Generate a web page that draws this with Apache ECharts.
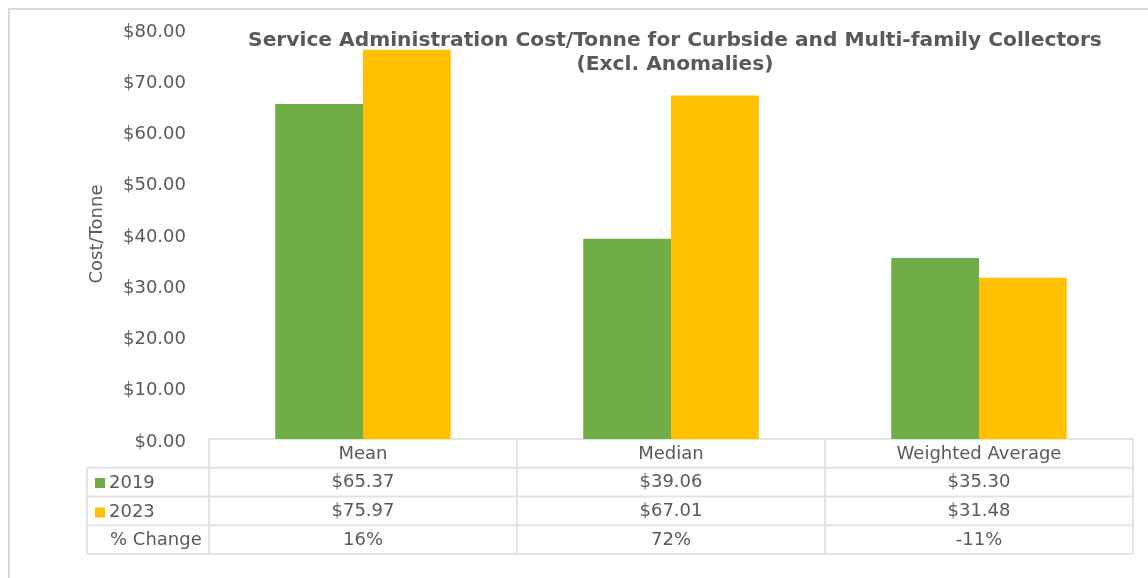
<!DOCTYPE html>
<html>
<head>
<meta charset="utf-8">
<style>
  html, body { margin: 0; padding: 0; background: #ffffff; }
  #chart { width: 1148px; height: 578px; }
</style>
<script src="https://cdn.jsdelivr.net/npm/echarts@6/dist/echarts.min.js"></script>
</head>
<body>
<div id="chart"></div>
<script>
// Service administration cost per tonne, 2019 vs 2023
const categories = ['Mean', 'Median', 'Weighted Average'];
const years = ['2019', '2023'];
const values2019 = [65.37, 39.06, 35.30];
const values2023 = [75.97, 67.01, 31.48];
const pctChange = [16, 72, -11];
const yTicks = [0, 10, 20, 30, 40, 50, 60, 70, 80];

const TEXT = '#595959';
const LINE = '#e3e3e3';
const FONT = 'DejaVu Sans';
const GRID = { left: 209, right: 15, top: 29, bottom: 139 };
const ROW_H = 28.75;

const money = v => '$' + v.toFixed(2);

const chart = echarts.init(document.getElementById('chart'), null, { renderer: 'canvas' });

// Each table row is a category axis sharing the grid, pushed down by an offset
function tableAxis(labels, offset) {
  return {
    type: 'category',
    data: labels,
    position: 'bottom',
    offset: offset,
    axisLine: { show: false },
    axisTick: { show: false },
    axisLabel: { color: TEXT, fontFamily: FONT, fontSize: 18, margin: 6, interval: 0 }
  };
}

const option = {
  animation: false,
  textStyle: { fontFamily: FONT },
  title: {
    text: 'Service Administration Cost/Tonne for Curbside and Multi-family Collectors\n(Excl. Anomalies)',
    left: 670,
    textAlign: 'center',
    top: 24,
    textStyle: {
      fontFamily: FONT,
      fontWeight: 'bold',
      fontSize: 20.2,
      lineHeight: 24,
      color: TEXT
    }
  },
  legend: {
    data: years,
    orient: 'vertical',
    left: 90,
    top: 469,
    itemWidth: 10,
    itemHeight: 10,
    itemGap: 11.5,
    icon: 'rect',
    selectedMode: false,
    textStyle: { color: TEXT, fontFamily: FONT, fontSize: 18, padding: [0, 0, 0, -1] }
  },
  grid: GRID,
  xAxis: [
    {
      type: 'category',
      data: categories,
      position: 'bottom',
      axisLine: { show: true, lineStyle: { color: LINE, width: 2 } },
      axisTick: { show: true, length: ROW_H * 4, lineStyle: { color: LINE, width: 2 } },
      axisLabel: { color: TEXT, fontFamily: FONT, fontSize: 18, margin: 6, interval: 0 }
    },
    tableAxis(values2019.map(money), ROW_H),
    tableAxis(values2023.map(money), ROW_H * 2),
    tableAxis(pctChange.map(p => p + '%'), ROW_H * 3)
  ],
  yAxis: {
    type: 'value',
    min: 0,
    max: 80,
    interval: 10,
    name: 'Cost/Tonne',
    nameLocation: 'middle',
    nameGap: 103,
    nameTextStyle: { color: TEXT, fontFamily: FONT, fontSize: 18 },
    axisLine: { show: false },
    axisTick: { show: false },
    splitLine: { show: false },
    axisLabel: {
      color: TEXT, fontFamily: FONT, fontSize: 18, margin: 23,
      formatter: v => yTicks.includes(v) ? '{v|' + money(v) + '}' : '',
      rich: { v: { fontFamily: FONT, fontSize: 18, color: TEXT, padding: [6, 0, 0, 0] } }
    }
  },
  series: [
    {
      name: years[0],
      type: 'bar',
      data: values2019,
      barGap: '0%',
      barCategoryGap: '43%',
      itemStyle: { color: '#70ad47' }
    },
    {
      name: years[1],
      type: 'bar',
      data: values2023,
      barGap: '0%',
      barCategoryGap: '43%',
      itemStyle: { color: '#ffc000' }
    }
  ]
};

chart.setOption(option);

// Table rules and row caption, placed from the grid's own geometry
const W = 1148, H = 578;
const gx1 = W - GRID.right;
const gy0 = H - GRID.bottom;
const labelLeft = 87;
const graphics = [
  // chart frame
  { type: 'rect', shape: { x: 9, y: 9, width: W, height: H }, style: { fill: null, stroke: '#d9d9d9', lineWidth: 2 }, silent: true, z: -1 }
];
for (let r = 1; r <= 4; r++) {
  const y = gy0 + ROW_H * r;
  graphics.push({ type: 'line', shape: { x1: labelLeft, y1: y, x2: gx1, y2: y }, style: { stroke: LINE, lineWidth: 2 }, silent: true });
}
graphics.push({ type: 'line', shape: { x1: labelLeft, y1: gy0 + ROW_H, x2: labelLeft, y2: gy0 + ROW_H * 4 }, style: { stroke: LINE, lineWidth: 2 }, silent: true });
graphics.push({
  type: 'text', x: 110, y: gy0 + ROW_H * 3.5 + 1,
  style: { text: '% Change', fill: TEXT, font: '18px "' + FONT + '"', textVerticalAlign: 'middle', verticalAlign: 'middle' }, silent: true
});
chart.setOption({ graphic: graphics });
</script>
</body>
</html>
